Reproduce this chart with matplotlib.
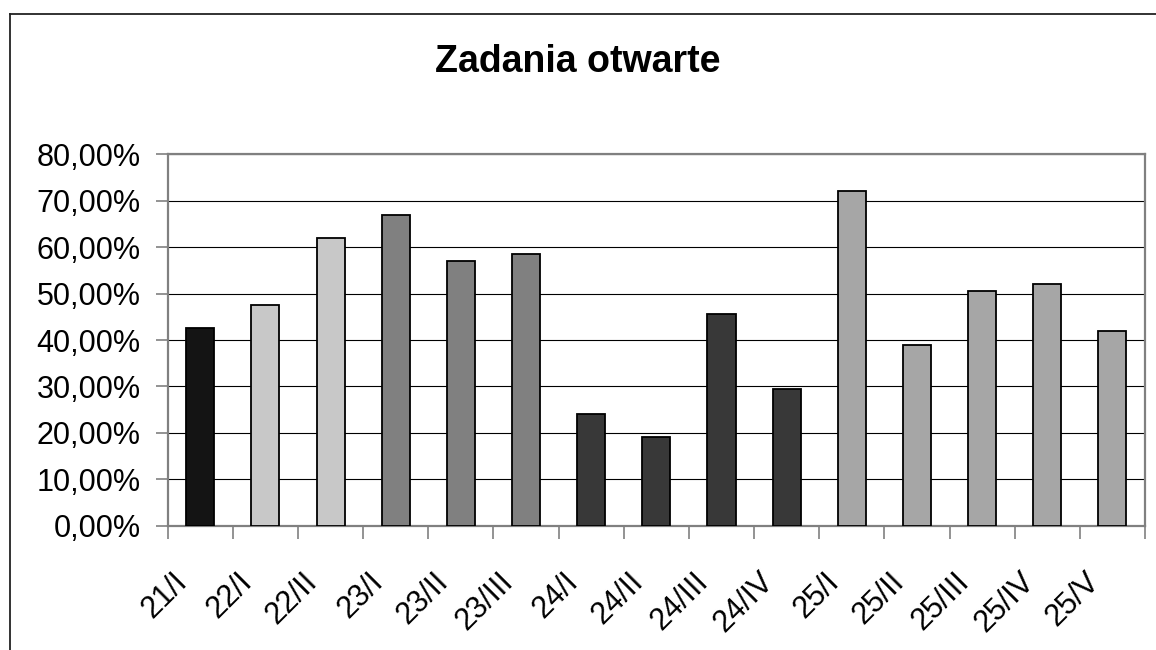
import matplotlib
matplotlib.use("Agg")
import matplotlib.pyplot as plt
from matplotlib.lines import Line2D
from matplotlib.ticker import FuncFormatter, MultipleLocator
from matplotlib.transforms import ScaledTranslation

plt.rcParams["font.family"] = ["Liberation Sans", "DejaVu Sans"]

TITLE = "Zadania otwarte"
CATEGORIES = ["21/I", "22/I", "22/II", "23/I", "23/II", "23/III", "24/I", "24/II",
              "24/III", "24/IV", "25/I", "25/II", "25/III", "25/IV", "25/V"]
VALUES = [42.5, 47.5, 62.0, 67.0, 57.0, 58.5, 24.0, 19.0,
          45.5, 29.5, 72.0, 39.0, 50.5, 52.0, 42.0]
# fill by year group, as in the original sheet
YEAR_COLOR = {"21": "#141414", "22": "#c8c8c8", "23": "#808080", "24": "#383838", "25": "#a6a6a6"}

W, H = 1156, 650
fig = plt.figure(figsize=(W / 100, H / 100), dpi=100)
ax = fig.add_axes([167.7 / W, 1 - 525.7 / H, (1145 - 167.7) / W, (525.7 - 154.3) / H])

colors = [YEAR_COLOR[c.split("/")[0]] for c in CATEGORIES]
x = list(range(len(CATEGORIES)))
ax.bar(x, VALUES, width=0.43, color=colors, edgecolor="black", linewidth=1.3, zorder=3)

ax.set_xlim(-0.5, len(CATEGORIES) - 0.5)
ax.set_ylim(0, 80)
ax.yaxis.set_major_locator(MultipleLocator(10))
ax.yaxis.set_major_formatter(FuncFormatter(lambda v, _: f"{v:.2f}%".replace(".", ",")))
ax.grid(axis="y", color="black", linewidth=0.8, zorder=0)

# ticks sit between categories (Excel style), labels at centres
ax.set_xticks([i - 0.5 for i in range(len(CATEGORIES) + 1)])
ax.set_xticklabels([])
ax.set_xticks(x, minor=True)
ax.set_xticklabels(CATEGORIES, minor=True, rotation=45, ha="right",
                   rotation_mode="anchor", fontsize=22)
ax.tick_params(axis="x", which="minor", length=0, pad=29.5)
ax.tick_params(axis="x", which="major", length=9, width=1.2, color="#808080")
ax.tick_params(axis="y", length=9, width=1.2, color="#808080", labelsize=22, pad=10.5)

# Excel puts the end of rotated labels a bit left of the category centre
shift = ScaledTranslation(-28 / 100, 0, fig.dpi_scale_trans)
for lbl in ax.get_xticklabels(minor=True):
    lbl.set_transform(lbl.get_transform() + shift)

for s in ax.spines.values():
    s.set_color("#808080")
    s.set_linewidth(1.6)

fig.text(0.5, 1 - 71.7 / H, TITLE, ha="center", va="baseline", fontsize=27, fontweight="bold")

# outer chart frame (only top and left edges visible in the crop)
fx, fy = 9.5 / W, 1 - 13.5 / H
fig.add_artist(Line2D([fx, 1], [fy, fy], color="#222222", linewidth=1.3))
fig.add_artist(Line2D([fx, fx], [0, fy], color="#222222", linewidth=1.3))

fig.savefig("out.png", dpi=100)
